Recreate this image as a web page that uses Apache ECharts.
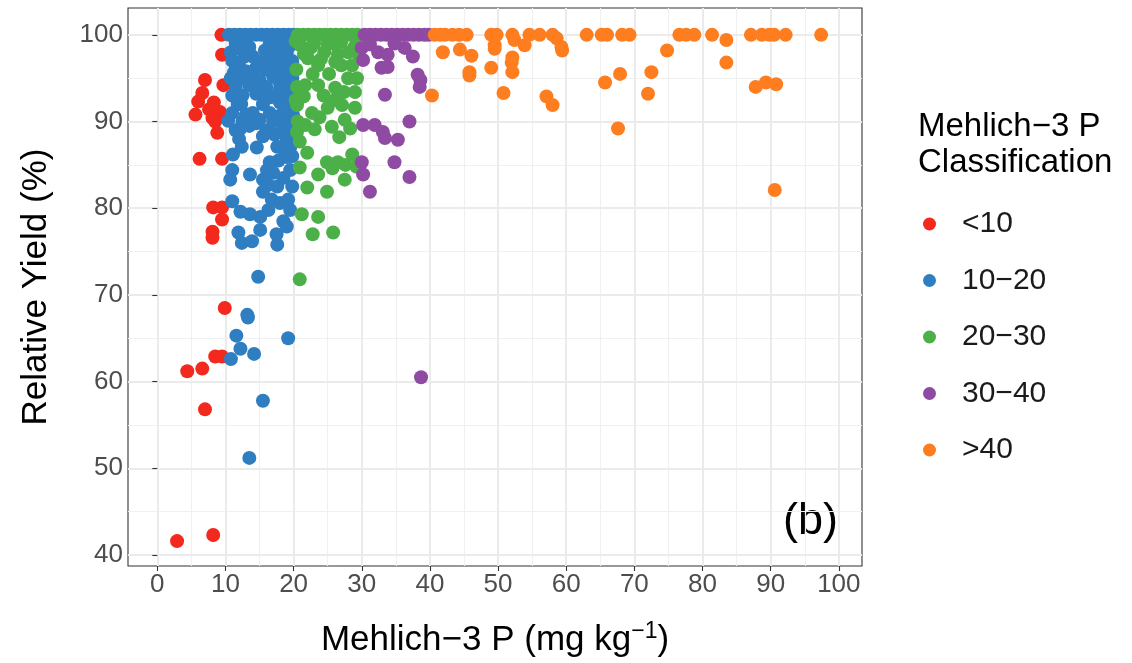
<!DOCTYPE html>
<html>
<head>
<meta charset="utf-8">
<script src="https://cdn.jsdelivr.net/npm/echarts@6/dist/echarts.min.js"></script>
<style>
html,body{margin:0;padding:0;background:#fff;}
#c{width:1132px;height:663px;}
</style>
</head>
<body>
<div id="c"></div>
<script>
// ---- data ----
const classNames = ['<10', '10\u221220', '20\u221230', '30\u221240', '>40'];
const classColors = ['#F2291C', '#2F7EC1', '#4CB048', '#8F4AA3', '#FE7D1F'];
const xTicks = [0, 10, 20, 30, 40, 50, 60, 70, 80, 90, 100];
const xMinor = [5, 15, 25, 35, 45, 55, 65, 75, 85, 95];
const yTicks = [40, 50, 60, 70, 80, 90, 100];
const yMinor = [45, 55, 65, 75, 85, 95];

const red = [[9.4,100],[9.5,97.7],[7.0,94.8],[9.7,94.2],[6.6,93.3],[6.0,92.3],[8.3,92.2],[8.2,91.6],[7.6,91.4],
  [9.2,91.1],[5.6,90.8],[8.1,90.4],[8.5,90.0],[8.8,88.7],[6.2,85.7],[9.5,85.7],[8.2,80.1],[9.5,80.1],[9.5,78.7],
  [8.1,77.3],[8.1,76.6],[9.9,68.5],[8.5,62.9],[9.5,62.9],[4.4,61.2],[6.6,61.5],[7.0,56.8],[2.9,41.6],[8.2,42.3]];

const blue = [[10.5,100],[11.3,100],[12.1,100],[12.9,100],[13.7,100],[14.5,100],[15.3,100],[16.1,100],[16.9,100],
  [17.7,100],[18.5,100],[19.3,100],[20,100],
  [11.5,99],[13,99.2],[16.5,99],[18.5,99.3],[19.5,98.8],
  [10.8,98],[15.8,98.2],[17,97.8],[19,98],
  [11,97],[12,96.8],[15.5,97],[18,97.2],[19.8,97],
  [11.5,96],[13,95.8],[14.5,96.2],[16,96],[17.5,95.8],[19,96.2],
  [10.8,95],[12.5,95],[15,94.8],[17,95.2],[18.5,95],[19.8,95],
  [11.5,94],[13.5,94.2],[16,94],[18,93.8],[19.5,94],
  [11,93],[12.5,93],[14.5,93.2],[17.5,93],[19,93],
  [11.8,92],[15.5,92],[18,92.2],[19.8,92],
  [11,91],[14,91],[16.5,91],[18.5,91],
  [10.4,90.1],[12.5,90],[15,90.2],[17,90],[19.5,90],
  [11.5,89],[13.5,89.5],[16,89],[18.5,89.2],[19.8,88.8],
  [12,88],[15.5,88.3],[19,88],
  [12.3,98.3],[14,97.5],[13.5,98.6],[17.8,98.8],[12.8,97.5],[16.8,96.8],[14,94.8],[11.2,95.6],[17.9,94.6],
  [15.2,93.5],[19.9,93.2],[12.3,92],[16.6,92.8],[13,90.8],[17.8,90.6],[19.9,90.8],[14.5,89.8],[12.2,89.2],
  [17.2,88.5],[18.8,86.5],[17.8,85.5],[19.8,86],[18.5,83.5],[19.8,82.5],[16.8,81],[18.5,78.5],[17.5,77],
  [11.1,86.2],[12.4,87.1],[14.6,87.0],[17.6,87.1],[19.5,87.0],[19.0,85.9],[16.5,85.3],
  [13.6,83.9],[11.0,84.4],[10.7,83.3],[16.1,84.4],[17.0,84.1],[15.5,83.3],[19.5,84.4],
  [15.5,81.9],[16.3,82.7],[17.6,82.5],[19.2,81.0],[18.0,80.6],[11.0,80.8],
  [12.2,79.6],[13.6,79.3],[15.1,79.0],[16.3,79.8],[19.5,79.8],[19.0,77.9],[15.1,77.5],[11.9,77.2],
  [12.4,76.0],[13.9,76.2],[17.6,75.8],
  [14.8,72.1],[13.2,67.7],[13.3,67.4],[11.6,65.3],[19.2,65.0],[12.2,63.8],[14.2,63.2],[10.8,62.6],
  [15.5,57.8],[13.5,51.2]];

const green = [[20.6,100],[21.4,100],[22.2,100],[23,100],[23.8,100],[24.6,100],[25.4,100],[26.2,100],[27,100],
  [27.8,100],[28.6,100],[29.4,100],
  [20.3,99.3],[21,98.8],[23,99],[25,98.9],[27,99.2],[29,98.7],[21.5,97.8],[24.5,98],[26.5,97.8],[29.5,97.8],
  [20.4,96],[20.5,94],[20.3,92.5],[20.6,90],[20.5,88.8],
  [22.5,98.5],[24,97.2],[26,99],[28,98],[25.2,95.5],[27,96.5],[22.8,95.5],[24.4,93],[27.4,93.4],[21.5,92.9],
  [29.3,95],[26,92.5],[28.3,89.2],[23.8,90.5],[26.7,88.2],[29.2,84.8],[25.7,84.6],[27.6,85.0],
  [22.1,97.3],[23.6,96.5],[26.1,96.9],[28.6,96.5],[21.7,94.2],[23.6,94.2],[26.1,93.9],[28.0,95.0],[29.0,93.4],
  [20.5,91.9],[22.7,91.0],[25.0,91.6],[27.1,91.9],[29.0,91.6],[21.7,89.6],[23.1,89.1],[25.6,89.4],[27.5,90.2],
  [20.9,87.7],[22.0,86.4],[28.6,86.2],[24.9,85.3],[26.5,85.3],[20.9,84.7],[23.6,83.9],[27.5,83.3],
  [22.0,82.4],[24.9,81.9],[21.2,79.3],[23.6,79.0],[22.8,77.0],[25.8,77.2],[20.9,71.8]];

const purple = [[30.4,100],[31.2,100],[32,100],[32.8,100],[33.6,100],[34.4,100],[35.2,100],[36,100],[36.8,100],
  [37.6,100],[38.4,100],[39.2,100],[39.8,100],
  [30.0,98.5],[32.4,98.0],[33.8,97.7],[36.3,98.5],[37.5,97.5],[30.2,97.1],[32.9,96.2],[33.8,96.3],[38.2,95.4],
  [31.2,98.9],[34.8,99.0],[38.6,94.8],
  [38.5,94.0],[33.4,93.1],[37.0,90.0],[30.2,89.6],[31.9,89.6],[33.1,88.8],[33.4,88.1],[35.3,87.9],[30.0,85.3],
  [34.8,85.3],[30.2,83.9],[37.0,83.6],[31.2,81.9],[38.7,60.5]];

const orange = [[40.7,100],[41.5,100],[42.2,100],[43.3,100],[44.3,100],[45.4,100],[49,100],[49.8,100],[52.1,100],
  [54.6,100],[56.1,100],[58,100],[63,100],[65.2,100],[66,100],[68.2,100],[69.3,100],[76.6,100],[77.6,100],
  [78.8,100],[81.4,100],[87.1,100],[88.7,100],[89.8,100],[90.5,100],[92.2,100],[97.4,100],
  [41.9,98],[44.4,98.3],[46.1,97.6],[49.5,98.8],[49.5,98.4],[52.4,99.4],[52.1,97.4],[53.9,98.8],[58.6,99.6],
  [59.3,98.6],[59.4,98.2],[45.8,95.7],[45.8,95.3],[49,96.2],[52,96.8],[52.1,95.7],[40.3,93],[50.8,93.3],
  [57.1,92.9],[58,91.9],[65.7,94.5],[67.9,95.5],[67.6,89.2],[74.8,98.2],[83.5,99.4],[83.5,96.8],[72.5,95.7],
  [72,93.2],[87.8,94],[89.3,94.5],[90.8,94.3],[90.6,82.1]];

const seriesData = [red, blue, green, purple, orange];

// ---- chart ----
const FONT = '"Liberation Sans", Arial, sans-serif';
const chart = echarts.init(document.getElementById('c'), null, {renderer: 'canvas'});
const GRID = {left: 128, top: 8, width: 734, height: 559};
const X_MIN = -4.3, X_MAX = 103.4, Y_MIN = 38.73, Y_MAX = 103.1;

function mainAxis(ticks, isX) {
  return {
    type: 'value', min: isX ? X_MIN : Y_MIN, max: isX ? X_MAX : Y_MAX,
    position: isX ? 'bottom' : 'left',
    axisLine: {show: false},
    axisTick: {show: true, customValues: ticks, length: 5, lineStyle: {color: '#333', width: 1.1}},
    axisLabel: {show: true, customValues: ticks, color: '#4d4d4d', fontSize: 26, fontFamily: FONT, margin: isX ? 6 : 5},
    splitLine: {show: true, lineStyle: {color: '#ebebeb', width: 2}},
    z: 1
  };
}
function minorAxis(ticks, isX) {
  return {
    type: 'value', min: isX ? X_MIN : Y_MIN, max: isX ? X_MAX : Y_MAX,
    position: isX ? 'bottom' : 'left',
    axisLine: {show: false},
    axisTick: {show: false, customValues: ticks},
    axisLabel: {show: false},
    splitLine: {show: true, lineStyle: {color: '#f0f0f0', width: 1.2}},
    z: 0
  };
}

const xMain = mainAxis(xTicks, true);
xMain.name = 'Mehlich\u22123 P (mg kg{sup|\u22121})';
xMain.nameLocation = 'middle';
xMain.nameGap = 54;
xMain.nameTextStyle = {color: '#000', fontSize: 35, fontFamily: FONT,
  rich: {sup: {fontSize: 23, fontFamily: FONT, color: '#000', verticalAlign: 'top', padding: [0, 0, 18, 0]}}};
const yMain = mainAxis(yTicks, false);
yMain.name = 'Relative Yield (%)';
yMain.nameLocation = 'middle';
yMain.nameGap = 74;
yMain.nameTextStyle = {color: '#000', fontSize: 35, fontFamily: FONT};

chart.setOption({
  animation: false,
  backgroundColor: '#fff',
  grid: Object.assign({show: true, borderColor: '#333', borderWidth: 1.1, backgroundColor: 'transparent', containLabel: false}, GRID),
  xAxis: [xMain, minorAxis(xMinor, true)],
  yAxis: [yMain, minorAxis(yMinor, false)],
  legend: {
    orient: 'vertical', left: 918, top: 204,
    itemWidth: 13, itemHeight: 13, itemGap: 26.5,
    icon: 'circle',
    data: classNames,
    textStyle: {color: '#1a1a1a', fontSize: 30, fontFamily: FONT, padding: [0, 0, 0, 21]}
  },
  graphic: [
    {type: 'text', left: 918, top: 109, style: {text: 'Mehlich\u22123 P\nClassification', font: '33px ' + FONT, fill: '#000', lineHeight: 36}},
    {type: 'text', left: 783, top: 499, style: {text: '(b)', font: '45px ' + FONT, fill: '#000'}}
  ],
  series: seriesData.map((d, i) => ({
    name: classNames[i], type: 'scatter', data: d, xAxisIndex: 0, yAxisIndex: 0,
    symbolSize: 14, itemStyle: {color: classColors[i], opacity: 1}, z: 5
  }))
});
</script>
</body>
</html>
